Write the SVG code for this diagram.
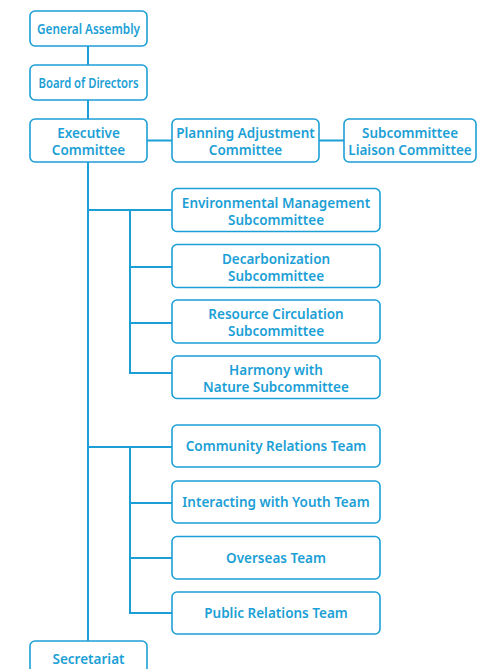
<svg xmlns="http://www.w3.org/2000/svg" width="494" height="669" viewBox="0 0 494 669">
<style>
.box{fill:#fff;stroke:#1c9fd6;stroke-width:1.6}
.t{font-family:"Noto Sans","Open Sans","Liberation Sans",sans-serif;font-size:13.5px;font-weight:600;fill:#1c9fd6;text-anchor:middle}
.c{stroke:#1c9fd6;stroke-width:2;fill:none}
</style>
<rect width="494" height="669" fill="#fff"/>
<g id="connectors">
<line class="c" x1="88" y1="46" x2="88" y2="65"/>
<line class="c" x1="88" y1="100" x2="88" y2="119"/>
<line class="c" x1="88" y1="162" x2="88" y2="641"/>
<line class="c" x1="147" y1="140.5" x2="172" y2="140.5"/>
<line class="c" x1="319" y1="140.5" x2="344" y2="140.5"/>
<line class="c" x1="88" y1="210" x2="172" y2="210"/>
<polyline class="c" points="130,210 130,373 172,373"/>
<line class="c" x1="130" y1="267" x2="172" y2="267"/>
<line class="c" x1="130" y1="323" x2="172" y2="323"/>
<line class="c" x1="88" y1="447" x2="172" y2="447"/>
<polyline class="c" points="130,447 130,613 172,613"/>
<line class="c" x1="130" y1="503" x2="172" y2="503"/>
<line class="c" x1="130" y1="558" x2="172" y2="558"/>
</g>
<g id="general-assembly"><rect class="box" x="30" y="11" width="117" height="35" rx="5"/><text class="t" x="88.5" y="33.5" textLength="103" lengthAdjust="spacingAndGlyphs">General Assembly</text></g>
<g id="board-of-directors"><rect class="box" x="30" y="65" width="117" height="35" rx="5"/><text class="t" x="88.5" y="87.5" textLength="100" lengthAdjust="spacingAndGlyphs">Board of Directors</text></g>
<g id="executive-committee"><rect class="box" x="30" y="119" width="117" height="43" rx="5"/><text class="t" x="88.5" y="138">Executive</text><text class="t" x="88.5" y="155">Committee</text></g>
<g id="planning-adjustment"><rect class="box" x="172" y="119" width="147" height="43" rx="5"/><text class="t" x="245.5" y="138">Planning Adjustment</text><text class="t" x="245.5" y="155">Committee</text></g>
<g id="subcommittee-liaison"><rect class="box" x="344" y="119" width="132" height="43" rx="5"/><text class="t" x="410" y="138">Subcommittee</text><text class="t" x="410" y="155">Liaison Committee</text></g>
<g id="environmental-management"><rect class="box" x="172" y="188.5" width="208" height="43" rx="5"/><text class="t" x="276" y="207.5">Environmental Management</text><text class="t" x="276" y="224.5">Subcommittee</text></g>
<g id="decarbonization"><rect class="box" x="172" y="244.5" width="208" height="43" rx="5"/><text class="t" x="276" y="263.5">Decarbonization</text><text class="t" x="276" y="280.5">Subcommittee</text></g>
<g id="resource-circulation"><rect class="box" x="172" y="300" width="208" height="43" rx="5"/><text class="t" x="276" y="319">Resource Circulation</text><text class="t" x="276" y="336">Subcommittee</text></g>
<g id="harmony-with-nature"><rect class="box" x="172" y="356" width="208" height="42.5" rx="5"/><text class="t" x="276" y="375">Harmony with</text><text class="t" x="276" y="392">Nature Subcommittee</text></g>
<g id="community-relations"><rect class="box" x="172" y="425" width="208" height="42" rx="5"/><text class="t" x="276" y="451">Community Relations Team</text></g>
<g id="interacting-with-youth"><rect class="box" x="172" y="481" width="208" height="42" rx="5"/><text class="t" x="276" y="507">Interacting with Youth Team</text></g>
<g id="overseas"><rect class="box" x="172" y="536.5" width="208" height="42.5" rx="5"/><text class="t" x="276" y="562.5">Overseas Team</text></g>
<g id="public-relations"><rect class="box" x="172" y="592" width="208" height="42" rx="5"/><text class="t" x="276" y="618">Public Relations Team</text></g>
<g id="secretariat"><rect class="box" x="30" y="641" width="117" height="45" rx="5"/><text class="t" x="88.5" y="664">Secretariat</text></g>
</svg>
